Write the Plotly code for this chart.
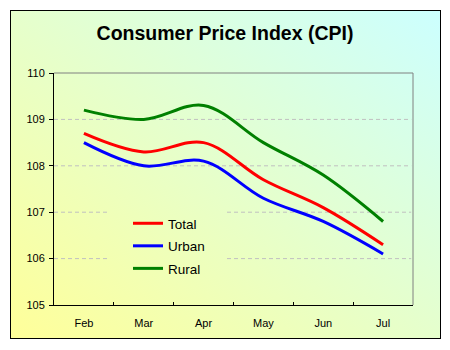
import base64
import plotly.graph_objects as go

months = ["Feb", "Mar", "Apr", "May", "Jun", "Jul"]
total = [108.7, 108.3, 108.5, 107.7, 107.1, 106.3]
urban = [108.5, 108.0, 108.1, 107.3, 106.8, 106.1]
rural = [109.2, 109.0, 109.3, 108.5, 107.8, 106.8]
y_ticks = [105, 106, 107, 108, 109, 110]

W, H = 450, 350
ML, MR, MT, MB = 54, 37, 73, 45
PW, PH = W - ML - MR, H - MT - MB

svg = f'''<svg xmlns="http://www.w3.org/2000/svg" width="{W}" height="{H}" viewBox="0 0 {W} {H}">
<defs><linearGradient id="g" x1="0" y1="1" x2="1" y2="0">
<stop offset="0" stop-color="#ffff99"/><stop offset="1" stop-color="#ccffff"/></linearGradient></defs>
<rect x="0" y="0" width="{W}" height="{H}" fill="#ffffff"/>
<rect x="10.5" y="10.5" width="430" height="328" fill="url(#g)" stroke="#000000" stroke-width="1"/>
</svg>'''
src = "data:image/svg+xml;base64," + base64.b64encode(svg.encode()).decode()

fig = go.Figure()
series = [("Total", total, "#ff0000"), ("Urban", urban, "#0000ff"), ("Rural", rural, "#008000")]
for name, vals, col in series:
    fig.add_trace(go.Scatter(x=months, y=vals, name=name, mode="lines",
                             line=dict(color=col, width=3, shape="spline", smoothing=1),
                             legendgroup=name))

shapes = []
gx0, gx1 = (107 - ML) / PW, (227 - ML) / PW
for v in y_ticks[1:-1]:
    if v in (106, 107):
        segs = [(0, gx0), (gx1, 0.995)]
    else:
        segs = [(0, 0.995)]
    for a, b in segs:
        shapes.append(dict(type="line", xref="paper", yref="y", x0=a, x1=b, y0=v, y1=v,
                           line=dict(color="#c0c0c0", width=1, dash="4px,3px"), layer="below"))
# top and right frame in grey
shapes.append(dict(type="line", xref="paper", yref="paper", x0=0, x1=1, y0=1, y1=1,
                   line=dict(color="#808080", width=1), layer="below"))
shapes.append(dict(type="line", xref="paper", yref="paper", x0=1, x1=1, y0=0, y1=1,
                   line=dict(color="#808080", width=1), layer="below"))

fig.update_layout(
    width=W, height=H,
    margin=dict(l=ML, r=MR, t=MT, b=MB),
    paper_bgcolor="#ffffff", plot_bgcolor="rgba(0,0,0,0)",
    font=dict(family="Arial, Liberation Sans, sans-serif", color="#000000"),
    title=dict(text="<b>Consumer Price Index (CPI)</b>", x=0.5, xref="container", xanchor="center",
               y=1 - 33 / H, yref="container", yanchor="middle",
               font=dict(size=19.5, color="#000000")),
    images=[dict(source=src, xref="paper", yref="paper", x=-ML / PW, y=1 + MT / PH,
                 sizex=W / PW, sizey=H / PH, xanchor="left", yanchor="top",
                 sizing="stretch", layer="below")],
    shapes=shapes,
    showlegend=True,
    legend=dict(x=(128 - ML) / PW, y=(305 - 208) / PH, xanchor="left", yanchor="top",
                bgcolor="rgba(0,0,0,0)", font=dict(size=13.5), tracegroupgap=2,
                itemwidth=30),
    xaxis=dict(type="category", range=[-0.5, 5.5], showline=True, linecolor="#000000", linewidth=1,
               ticks="inside", ticklen=3, tickcolor="#000000", tickson="boundaries",
               showgrid=False, zeroline=False, tickfont=dict(size=11), ticklabelstandoff=8,
               fixedrange=True),
    yaxis=dict(range=[105, 110], tickvals=y_ticks, showline=True, linecolor="#000000", linewidth=1,
               ticks="outside", ticklen=4, tickcolor="#000000", showgrid=False, zeroline=False,
               tickfont=dict(size=11), ticklabelstandoff=2, fixedrange=True),
)

fig.write_html("out.html")
